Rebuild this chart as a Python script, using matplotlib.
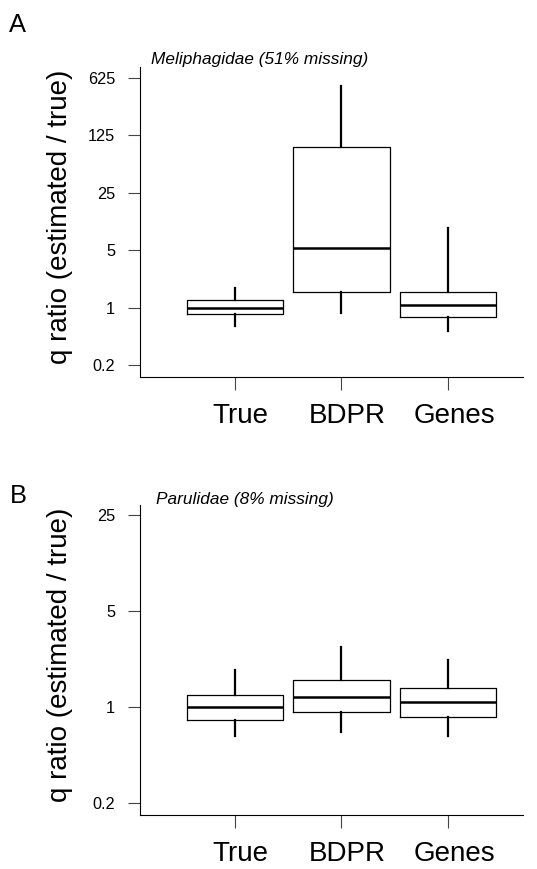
import matplotlib
matplotlib.use('Agg')
import matplotlib.pyplot as plt
import matplotlib.transforms as mtransforms

plt.rcParams['font.family'] = ['Liberation Sans', 'DejaVu Sans']

GROUPS = ['True', 'BDPR', 'Genes']
Y_TICKS = [0.2, 1, 5, 25, 125, 625]
Y_TICK_LABELS = ['0.2', '1', '5', '25', '125', '625']

# panel A: Meliphagidae
mel_whislo = [0.60, 0.85, 0.52]
mel_q1 = [0.84, 1.54, 0.76]
mel_med = [1.00, 5.26, 1.08]
mel_q3 = [1.23, 90.0, 1.54]
mel_whishi = [1.72, 500.0, 9.2]

# panel B: Parulidae
par_whislo = [0.615, 0.66, 0.62]
par_q1 = [0.81, 0.92, 0.85]
par_med = [1.00, 1.18, 1.09]
par_q3 = [1.22, 1.57, 1.39]
par_whishi = [1.87, 2.73, 2.20]

W, H = 537, 869
fig = plt.figure(figsize=(W / 100, H / 100), dpi=100)


def make_stats(lo, q1, med, q3, hi):
    return [dict(whislo=a, q1=b, med=c, q3=d, whishi=e, fliers=[])
            for a, b, c, d, e in zip(lo, q1, med, q3, hi)]


def draw_panel(top_px, bot_px, stats, ylim, yticks, title, title_px,
               letter, letter_px, ylabel_px):
    left = 140 / W
    right = 522.7 / W
    ax = fig.add_axes([left, 1 - bot_px / H, right - left,
                       (bot_px - top_px) / H])
    ax.bxp(stats, positions=[1, 2, 3], widths=0.9, showcaps=False,
           showfliers=False,
           boxprops=dict(color='black', linewidth=0.9),
           whiskerprops=dict(color='black', linewidth=1.6),
           medianprops=dict(color='black', linewidth=1.8))
    ax.set_yscale('log', base=5)
    ax.set_ylim(*ylim)
    ax.set_xlim(0.113, 3.697)
    ax.set_yticks(yticks)
    ax.set_yticklabels([Y_TICK_LABELS[Y_TICKS.index(t)] for t in yticks])
    ax.minorticks_off()
    ax.set_xticks([1, 2, 3])
    ax.set_xticklabels(GROUPS)
    for s in ['top', 'right']:
        ax.spines[s].set_visible(False)
    for s in ['left', 'bottom']:
        ax.spines[s].set_linewidth(0.8)
        ax.spines[s].set_color('black')
    ax.tick_params(axis='y', length=8.4, width=0.8, color='#444444',
                   labelsize=11.7, pad=9.6)
    ax.tick_params(axis='x', length=9.1, width=0.8, color='#444444',
                   labelsize=20, pad=9.5)
    off = mtransforms.ScaledTranslation(6 / 100, 0, fig.dpi_scale_trans)
    for lab in ax.get_xticklabels():
        lab.set_transform(lab.get_transform() + off)
    fig.text(title_px[0] / W, 1 - title_px[1] / H, title, style='italic',
             fontsize=12.4, va='baseline', ha='left')
    fig.text(letter_px[0] / W, 1 - letter_px[1] / H, letter, fontsize=18.4,
             va='baseline', ha='left')
    fig.text(60 / W, 1 - ylabel_px / H, 'q ratio (estimated / true)',
             rotation=90, fontsize=20, ha='center', va='center')
    return ax


draw_panel(66.7, 377.3,
           make_stats(mel_whislo, mel_q1, mel_med, mel_q3, mel_whishi),
           (5 ** -1.211, 5 ** 4.189), [0.2, 1, 5, 25, 125, 625],
           'Meliphagidae (51% missing)', (150.7, 64), 'A', (9.3, 32.3),
           216.7)

draw_panel(505, 815,
           make_stats(par_whislo, par_q1, par_med, par_q3, par_whishi),
           (5 ** -1.1215, 5 ** 2.108), [0.2, 1, 5, 25],
           'Parulidae (8% missing)', (156, 504), 'B', (10, 503.3),
           655)

fig.savefig('out.png', dpi=100)
